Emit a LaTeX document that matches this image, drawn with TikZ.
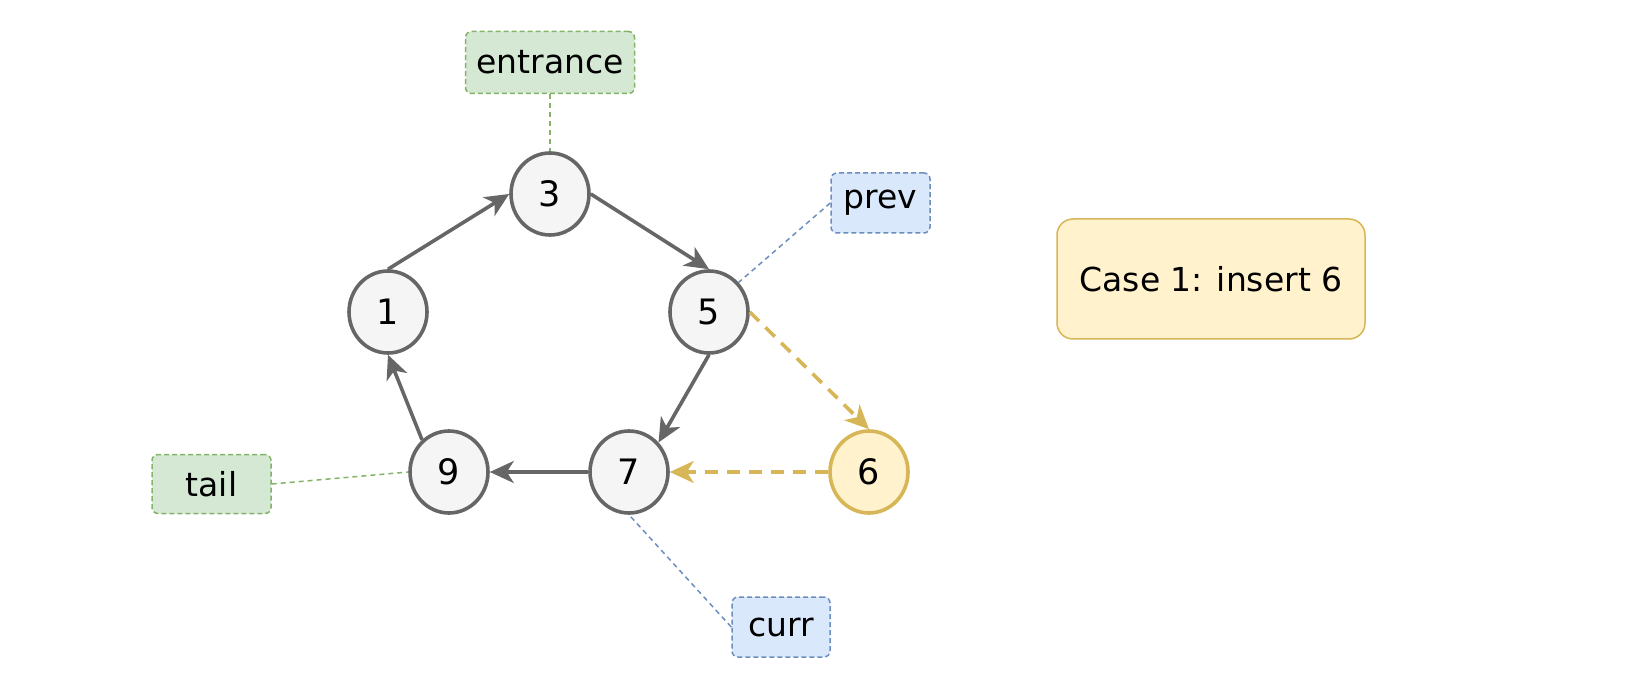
\documentclass[tikz,border=0pt]{standalone}
\usepackage{fontspec}
\setmainfont{DejaVu Sans}
\usetikzlibrary{shapes.geometric,arrows.meta}
\definecolor{gfill}{HTML}{F5F5F5}
\definecolor{gline}{HTML}{666666}
\definecolor{grfill}{HTML}{D5E8D4}
\definecolor{grline}{HTML}{82B366}
\definecolor{blfill}{HTML}{DAE8FC}
\definecolor{blline}{HTML}{6C8EBF}
\definecolor{yfill}{HTML}{FFF2CC}
\definecolor{yline}{HTML}{D6B656}
\tikzset{
  every node/.style={font=\fontsize{33}{40}\selectfont},
  listnode/.style={ellipse, draw=gline, fill=gfill, line width=3.6pt, minimum width=78pt, minimum height=82pt, inner sep=0pt, font=\fontsize{35}{40}\selectfont},
  newnode/.style={listnode, draw=yline, fill=yfill},
  greenbox/.style={draw=grline, fill=grfill, dashed, dash pattern=on 5pt off 3pt, line width=1.5pt, rounded corners=6pt, inner sep=0pt},
  bluebox/.style={greenbox, draw=blline, fill=blfill},
  tipshape/.style={-{Stealth[length=24pt,width=22pt,inset=7pt]}},
  grayarrow/.style={draw=gline, line width=3.6pt, tipshape},
  yarrow/.style={draw=yline, line width=3.6pt, dash pattern=on 13pt off 9pt, tipshape},
  glink/.style={draw=grline, line width=1.5pt, dash pattern=on 5pt off 4pt},
  blink/.style={draw=blline, line width=1.5pt, dash pattern=on 5pt off 4pt},
}
\begin{document}
\begin{tikzpicture}[x=1pt,y=-1pt]
\useasboundingbox (0,0) rectangle (1646,684);
\node[listnode] (n3) at (550,194) {3};
\node[listnode] (n1) at (388,312) {1};
\node[listnode] (n5) at (709,312) {5};
\node[listnode] (n9) at (449,472) {9};
\node[listnode] (n7) at (629,472) {7};
\node[newnode] (n6) at (869,472) {6};
\node[greenbox, minimum width=169pt, minimum height=62pt] (entrance) at (550,62.5) {entrance};
\node[bluebox, minimum width=99pt, minimum height=60pt] (prev) at (880.5,203) {prev};
\node[greenbox, minimum width=119pt, minimum height=59pt] (tail) at (211.5,484) {tail};
\node[bluebox, minimum width=98pt, minimum height=60pt] (curr) at (781,627) {curr};
\node[draw=yline, fill=yfill, line width=1.5pt, rounded corners=16pt, minimum width=308pt, minimum height=120pt, inner sep=0pt] (case) at (1211,279) {Case 1: insert 6};
\draw[grayarrow] (n1.north) -- (n3.west);
\draw[grayarrow] (n3.east) -- (n5.north);
\draw[grayarrow] (n5.south) -- (n7.45);
\draw[grayarrow] (n7.west) -- (n9.east);
\draw[grayarrow] (n9.130) -- (n1.south);
\draw[yarrow] (n5.east) -- (n6.north);
\draw[yarrow] (n6.west) -- (n7.east);
\draw[glink] (entrance.south) -- (n3.north);
\draw[glink] (tail.east) -- (n9.west);
\draw[blink] (prev.west) -- (n5.45);
\draw[blink] (curr.west) -- (n7.south);
\end{tikzpicture}
\end{document}
